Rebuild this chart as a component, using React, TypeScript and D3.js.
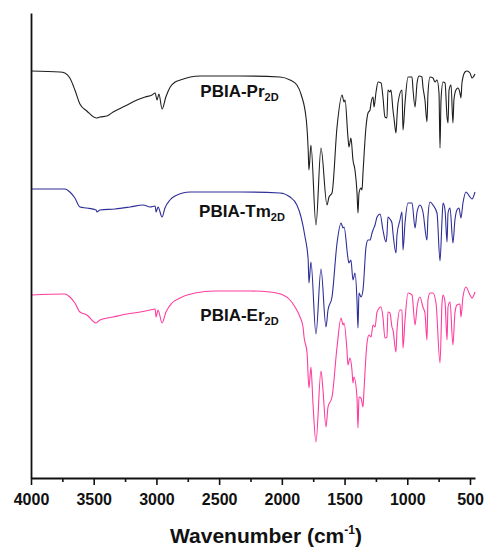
import React, { useEffect, useRef } from 'react';
import * as d3 from 'd3';

// wavenumber (cm-1), transmittance (a.u., offset per sample)
const prData: [number, number][] = [
  [4000, 81.4], [3770, 81.2], [3730, 81.0], [3690, 80.0], [3650, 77.6], [3610, 74.8],
  [3555, 73.4], [3480, 72.0], [3450, 72.2], [3395, 72.4], [3345, 73.2], [3250, 74.4],
  [3155, 75.6], [3090, 76.2], [3035, 76.6], [3010, 77.0], [2995, 75.6], [2980, 76.8],
  [2955, 73.8], [2925, 76.2], [2890, 78.2], [2850, 79.2], [2810, 79.6], [2730, 80.2],
  [2650, 80.4], [2335, 80.4], [2015, 80.2], [1935, 79.6], [1880, 78.6], [1845, 76.6],
  [1805, 71.6], [1790, 65.6], [1784, 61.6], [1768, 66.6], [1728, 50.6], [1688, 66.0],
  [1640, 54.6], [1624, 56.2], [1600, 57.0], [1560, 70.2], [1520, 76.6], [1504, 75.2],
  [1496, 75.6], [1473, 68.2], [1465, 66.2], [1449, 68.0], [1433, 63.6], [1417, 61.6],
  [1401, 57.2], [1393, 53.0], [1385, 57.0], [1369, 58.0], [1361, 57.6], [1353, 61.0],
  [1329, 70.2], [1313, 73.0], [1297, 73.6], [1289, 75.0], [1273, 76.2], [1265, 74.2],
  [1249, 77.2], [1233, 79.2], [1209, 79.0], [1194, 76.2], [1178, 72.2], [1162, 72.0],
  [1154, 77.6], [1138, 77.2], [1130, 77.6], [1114, 73.6], [1106, 72.0], [1090, 69.0],
  [1082, 72.2], [1074, 75.0], [1042, 77.6], [1034, 69.6], [1018, 75.0], [994, 80.2],
  [962, 80.2], [954, 77.6], [938, 74.2], [922, 79.0], [906, 80.4], [883, 80.2],
  [875, 78.2], [859, 75.6], [843, 71.2], [835, 76.8], [819, 80.2], [795, 80.0],
  [779, 79.2], [763, 79.6], [747, 77.0], [739, 66.0], [731, 75.6], [715, 79.2],
  [699, 79.0], [683, 72.2], [675, 71.0], [667, 77.6], [651, 78.6], [636, 71.0],
  [628, 75.6], [612, 77.6], [596, 78.0], [580, 77.0], [572, 76.0], [564, 79.0],
  [540, 81.2], [524, 81.4], [500, 81.0], [484, 80.0], [460, 80.8],
];

const tmData: [number, number][] = [
  [4000, 57.8], [3730, 57.8], [3690, 57.2], [3650, 56.0], [3610, 54.2], [3555, 54.0],
  [3480, 53.6], [3475, 53.2], [3450, 53.6], [3330, 53.8], [3210, 54.2], [3105, 54.6],
  [3050, 54.2], [3010, 54.4], [3003, 53.2], [2987, 54.2], [2955, 52.2], [2932, 54.0],
  [2892, 55.6], [2852, 56.4], [2730, 57.2], [2575, 57.2], [2335, 57.2], [2015, 57.0],
  [1935, 56.2], [1880, 54.6], [1847, 52.2], [1815, 48.2], [1790, 43.6], [1784, 39.0],
  [1768, 43.2], [1728, 28.8], [1688, 41.8], [1648, 30.2], [1632, 33.6], [1600, 36.2],
  [1560, 47.0], [1528, 51.0], [1512, 50.0], [1504, 50.2], [1473, 44.0], [1465, 43.0],
  [1449, 43.6], [1433, 39.6], [1417, 41.0], [1401, 35.6], [1393, 30.0], [1385, 37.0],
  [1369, 36.2], [1353, 37.6], [1329, 46.2], [1313, 47.6], [1297, 47.6], [1281, 49.0],
  [1273, 49.6], [1257, 50.6], [1241, 52.2], [1217, 52.8], [1194, 49.6], [1170, 47.2],
  [1162, 48.6], [1154, 52.2], [1138, 51.8], [1122, 51.0], [1114, 49.0], [1090, 45.0],
  [1082, 48.6], [1058, 51.6], [1042, 53.2], [1034, 45.6], [1018, 51.0], [994, 55.0],
  [962, 55.0], [938, 50.0], [922, 53.2], [899, 54.6], [875, 53.2], [843, 47.6],
  [835, 52.2], [819, 55.2], [795, 54.6], [763, 53.0], [739, 43.4], [723, 51.6],
  [715, 55.0], [699, 53.6], [683, 47.2], [675, 53.0], [659, 54.0], [636, 47.0],
  [620, 51.6], [604, 53.6], [588, 54.0], [572, 52.0], [556, 55.0], [532, 57.2],
  [500, 56.2], [484, 55.8], [460, 57.2],
];

const erData: [number, number][] = [
  [4000, 36.6], [3730, 36.8], [3690, 36.2], [3650, 35.0], [3610, 33.2], [3555, 32.6],
  [3482, 31.0], [3450, 31.6], [3345, 32.2], [3235, 32.8], [3130, 33.2], [3050, 33.6],
  [3010, 33.8], [3003, 32.2], [2987, 33.6], [2955, 31.0], [2924, 33.2], [2876, 35.0],
  [2812, 36.0], [2692, 37.0], [2535, 37.4], [2255, 37.4], [2095, 37.2], [1990, 36.6],
  [1935, 35.6], [1895, 34.2], [1855, 32.2], [1831, 30.2], [1823, 28.2], [1799, 25.0],
  [1784, 18.0], [1768, 22.2], [1752, 15.0], [1728, 7.2], [1688, 21.4], [1672, 17.6],
  [1648, 10.2], [1632, 14.2], [1600, 16.2], [1560, 26.2], [1528, 32.0], [1512, 30.6],
  [1504, 31.0], [1481, 25.6], [1473, 22.6], [1457, 24.0], [1441, 21.6], [1433, 19.0],
  [1425, 20.2], [1401, 16.2], [1393, 10.0], [1385, 16.2], [1369, 16.0], [1353, 14.2],
  [1345, 17.6], [1321, 27.0], [1305, 28.6], [1289, 28.2], [1273, 30.6], [1257, 30.2],
  [1241, 33.2], [1209, 34.2], [1194, 32.2], [1178, 28.0], [1162, 28.2], [1154, 33.2],
  [1138, 33.0], [1122, 30.2], [1114, 29.6], [1090, 25.2], [1082, 29.6], [1058, 33.6],
  [1042, 33.6], [1034, 26.0], [1018, 31.6], [994, 37.0], [962, 36.6], [938, 30.6],
  [922, 34.2], [899, 36.2], [875, 34.2], [859, 33.0], [843, 27.6], [835, 35.6],
  [819, 37.0], [795, 37.0], [771, 35.0], [739, 23.0], [723, 35.0], [715, 36.6],
  [699, 35.2], [683, 27.6], [675, 34.2], [659, 35.2], [636, 26.6], [620, 33.0],
  [604, 34.6], [580, 34.8], [572, 32.2], [556, 36.2], [532, 38.2], [500, 36.6],
  [484, 36.0], [460, 37.2],
];

const seriesNames = ['PBIA-Pr', 'PBIA-Tm', 'PBIA-Er'];
const seriesColors = ['#1e1e1e', '#2e2e98', '#ff3d9e'];
// label anchor: wavenumber, transmittance
const labelPos: [number, number][] = [[2650, 76.2], [2660, 52.2], [2650, 31.4]];
const majorTicks = [4000, 3500, 3000, 2500, 2000, 1500, 1000, 500];
const minorTicks = [3750, 3250, 2750, 2250, 1750, 1250, 750];

export default function App() {
  const ref = useRef<SVGSVGElement>(null);

  useEffect(() => {
    const svg = d3.select(ref.current);
    svg.selectAll('*').remove();

    const x = d3.scaleLinear().domain([4000, 460]).range([31, 475]);
    const y = d3.scaleLinear().domain([0, 93]).range([478, 13]);

    const line = d3.line<[number, number]>()
      .x(d => x(d[0]))
      .y(d => y(d[1]))
      .curve(d3.curveMonotoneX);

    [prData, tmData, erData].forEach((data, i) => {
      svg.append('path')
        .datum(data)
        .attr('fill', 'none')
        .attr('stroke', seriesColors[i])
        .attr('stroke-width', 1.1)
        .attr('d', line);
    });

    const font = 'Arial, "Liberation Sans", sans-serif';

    seriesNames.forEach((name, i) => {
      const t = svg.append('text')
        .attr('x', x(labelPos[i][0]))
        .attr('y', y(labelPos[i][1]))
        .attr('font-family', font)
        .attr('font-weight', 'bold')
        .attr('font-size', 17)
        .attr('fill', '#111');
      t.append('tspan').text(name);
      t.append('tspan').attr('font-size', 11).attr('dy', 4).text('2D');
    });

    // x axis
    const xAxis = svg.append('g').attr('transform', 'translate(0,478)');
    xAxis.call(
      d3.axisBottom(x).tickValues(majorTicks).tickSize(7).tickSizeOuter(0)
        .tickFormat(d3.format('d'))
    );
    xAxis.select('.domain').attr('stroke', '#111').attr('stroke-width', 1.8);
    xAxis.selectAll('.tick line').attr('stroke', '#111').attr('stroke-width', 1.6);
    xAxis.selectAll('.tick text')
      .attr('font-family', font)
      .attr('font-weight', 'bold')
      .attr('font-size', 16)
      .attr('fill', '#111')
      .attr('dy', '1.05em');

    const minor = svg.append('g').attr('transform', 'translate(0,478)');
    minor.call(d3.axisBottom(x).tickValues(minorTicks).tickSize(4).tickFormat(() => ''));
    minor.select('.domain').remove();
    minor.selectAll('.tick line').attr('stroke', '#111').attr('stroke-width', 1.6);

    // y axis line only
    const yAxis = svg.append('g').attr('transform', 'translate(31,0)');
    yAxis.call(d3.axisLeft(y).tickValues([]).tickSizeOuter(0));
    yAxis.select('.domain').attr('stroke', '#111').attr('stroke-width', 1.8);

    const title = svg.append('text')
      .attr('x', 266)
      .attr('y', 543)
      .attr('text-anchor', 'middle')
      .attr('font-family', font)
      .attr('font-weight', 'bold')
      .attr('font-size', 21)
      .attr('fill', '#111');
    title.append('tspan').text('Wavenumber (cm');
    title.append('tspan').attr('font-size', 12).attr('dy', -9).text('-1');
    title.append('tspan').attr('dy', 9).text(')');
  }, []);

  return (
    <svg ref={ref} width={488} height={548}
      style={{ position: 'absolute', left: 0, top: 0, background: '#fff' }} />
  );
}
